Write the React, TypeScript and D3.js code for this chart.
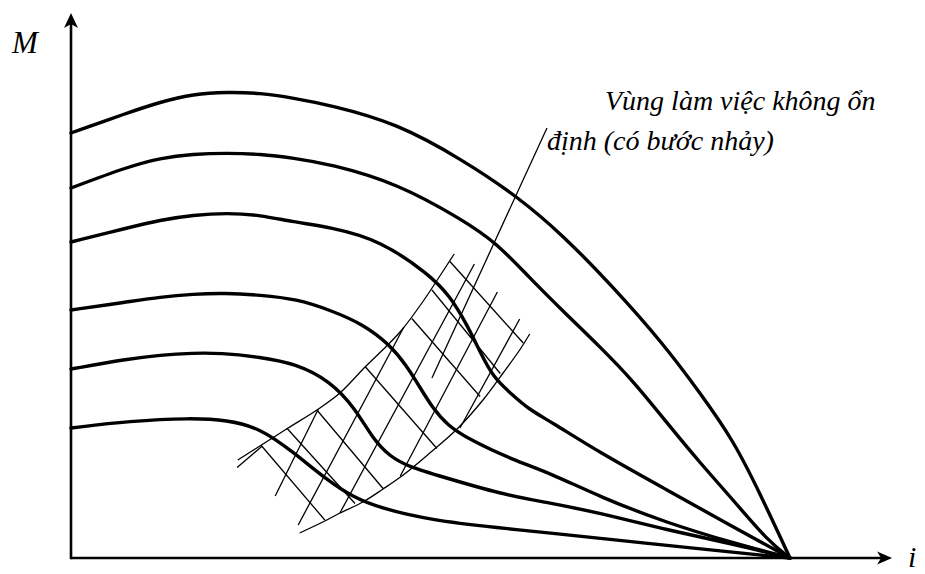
import React from "react";
import * as d3 from "d3";

const W = 925;
const H = 574;

// Torque M against current i, one curve per excitation level (top to bottom).
const curve1: [number, number][] = [
  [0, 85], [7.8, 89], [12.4, 91.2], [17, 92.8], [21.7, 93.2], [26.3, 93], [30.9, 92],
  [36, 90.6], [45.3, 87], [54.5, 79.6], [62, 72.4], [68.4, 64.6], [75.4, 54.2],
  [82.3, 43], [87.5, 33], [92.1, 23.6], [95.8, 13], [100, 0],
];
const curve2: [number, number][] = [
  [0, 74], [7.8, 78.2], [12.4, 80], [17, 80.8], [21.7, 81], [26.3, 80.8], [30.9, 80],
  [36, 78.8], [45.3, 75], [54.5, 67.6], [59.2, 63], [63.8, 56], [68.4, 49.4],
  [73.6, 42.2], [78.2, 35.4], [82.9, 27], [87.5, 19], [92.1, 11.6], [96.8, 3.6], [100, 0],
];
const curve3: [number, number][] = [
  [0, 63.2], [7.8, 66], [12.4, 67.6], [17, 68.6], [21.7, 69], [26.3, 68.6], [30.9, 67.2],
  [36, 66.2], [43, 63.6], [49.9, 56.6], [52.7, 52.4], [55.1, 46.6], [56.9, 41.2],
  [58.7, 36.2], [61.1, 33], [63.8, 29.6], [66.6, 27.4], [73.6, 21], [82.9, 13.6],
  [92.1, 6.2], [100, 0],
];
const curve4: [number, number][] = [
  [0, 49.6], [7.8, 51.2], [12.4, 52.2], [17, 52.8], [21.4, 53], [26.3, 52.6], [31.4, 51.8],
  [36, 49.6], [40.6, 46.8], [44.4, 42.6], [46.7, 38.4], [48.5, 34.2], [50.3, 30],
  [52.3, 26.6], [55.5, 23.6], [61.5, 19.6], [66.6, 17], [73.6, 12.2], [82.9, 7],
  [92.1, 3], [100, 0],
];
const curve5: [number, number][] = [
  [0, 37.8], [7.8, 39.8], [12.4, 40.6], [17, 41], [20.7, 41], [26.3, 40.2], [31.4, 38.8],
  [36, 35.4], [39.5, 30], [41.9, 24], [44.4, 20.2], [47.1, 18.2], [51.3, 16.4],
  [59.7, 12.8], [66.6, 11], [73.6, 9], [82.9, 5.6], [92.1, 2.8], [100, 0],
];
const curve6: [number, number][] = [
  [0, 26], [8.2, 27.4], [16.6, 28], [21.7, 27.6], [26.3, 26], [30.9, 21.2], [35.6, 15.6],
  [39.2, 12.2], [43, 10], [49.9, 7.6], [59.7, 6], [66.6, 5], [78.2, 3.2], [100, 0],
];
const torqueCurves = [curve1, curve2, curve3, curve4, curve5, curve6];

// Unstable zone: two bounding edges of the band
const zoneUpperEdge: [number, number][] = [
  [23.2, 19.6], [26.7, 22.8], [30.2, 26], [34.2, 29.6], [37.4, 33], [40.9, 38.2],
  [43.9, 42.4], [46, 45.6], [49, 51.4], [51.3, 56.4], [53.3, 60.8],
];
const zoneLowerEdge: [number, number][] = [
  [31.8, 5], [35.3, 7.4], [37.4, 9], [40.6, 11.2], [43.4, 13.8], [46.2, 16.6],
  [49.9, 21], [53.7, 25.8], [57.3, 31.6], [60.1, 37], [62.4, 41.6], [63.8, 44.8],
];
// cross rungs of the hatch (upper edge -> lower edge)
const zoneRungs: [number, number][][] = [
  [[26.4, 22.6], [35.3, 7.6]],
  [[30, 26], [39.5, 10.9]],
  [[34.2, 29.6], [43.4, 13.9]],
  [[40.9, 38.3], [50.9, 21.9]],
  [[47.4, 47.9], [56.9, 32.3]],
  [[50.2, 53.6], [59.7, 36.9]],
  [[52.7, 59.3], [62.9, 43]],
];
// slanted hatch lines running along the band
const zoneHatches: [number, number][][] = [
  [[23.1, 18.1], [26.6, 22.4]],
  [[28.4, 12.4], [34.4, 29.8]],
  [[31.6, 6.6], [46.3, 46.2]],
  [[37.4, 9], [56.1, 58.8]],
  [[45.8, 16.4], [59.3, 53.2]],
  [[54.1, 26], [62.4, 47.8]],
];
// leader from the note down into the zone
const leader: [number, number][] = [[66.2, 86], [50.2, 36]];

const noteLines = ["Vùng làm việc không ổn", "định (có bước nhảy)"];
const axisLabelY = "M";
const axisLabelX = "i";
const iAxisEnd = 114.2;
const mAxisEnd = 109;

const FONT = "'Liberation Serif', 'Times New Roman', serif";

export default function App() {
  const xS = d3.scaleLinear().domain([0, 100]).range([71, 790]);
  const yS = d3.scaleLinear().domain([0, 100]).range([558, 58]);

  const soft = d3
    .line<[number, number]>()
    .x((d) => xS(d[0]))
    .y((d) => yS(d[1]))
    .curve(d3.curveBasis);
  const smooth = d3
    .line<[number, number]>()
    .x((d) => xS(d[0]))
    .y((d) => yS(d[1]))
    .curve(d3.curveCatmullRom.alpha(0.5));
  const straight = d3
    .line<[number, number]>()
    .x((d) => xS(d[0]))
    .y((d) => yS(d[1]));

  const x0 = xS(0);
  const y0 = yS(0);
  const xEnd = xS(iAxisEnd);
  const yEnd = yS(mAxisEnd);

  const arrowX = `M${xEnd},${y0} L${xEnd - 15},${y0 - 6.5} L${xEnd - 11},${y0} L${xEnd - 15},${y0 + 6.5} Z`;
  const arrowY = `M${x0},${yEnd} L${x0 - 7},${yEnd + 15} L${x0},${yEnd + 11} L${x0 + 7},${yEnd + 15} Z`;

  return (
    <svg
      width={W}
      height={H}
      viewBox={`0 0 ${W} ${H}`}
      style={{ position: "absolute", left: 0, top: 0, background: "#fff" }}
    >
      <rect width={W} height={H} fill="#fff" />

      {/* hatched unstable zone */}
      <g stroke="#000" strokeWidth={1.3} fill="none">
        <path d={smooth(zoneUpperEdge) || ""} />
        <path d={smooth(zoneLowerEdge) || ""} />
        {zoneRungs.map((s, k) => (
          <path key={"r" + k} d={straight(s) || ""} />
        ))}
        {zoneHatches.map((s, k) => (
          <path key={"h" + k} d={straight(s) || ""} />
        ))}
        <path d={straight(leader) || ""} />
      </g>

      {/* torque curves */}
      <g stroke="#000" strokeWidth={3.4} fill="none" strokeLinecap="round">
        {torqueCurves.map((c, k) => (
          <path key={k} d={soft(c) || ""} />
        ))}
      </g>

      {/* axes */}
      <g stroke="#000" strokeWidth={2.6}>
        <line x1={x0} y1={y0} x2={xEnd - 8} y2={y0} />
        <line x1={x0} y1={y0 + 1.3} x2={x0} y2={yEnd + 8} />
      </g>
      <path d={arrowX} fill="#000" />
      <path d={arrowY} fill="#000" />

      <text x={x0 - 59} y={yEnd + 40} fontFamily={FONT} fontStyle="italic" fontSize={31} fill="#000">
        {axisLabelY}
      </text>
      <text x={xEnd + 16} y={y0 + 9} fontFamily={FONT} fontStyle="italic" fontSize={30} fill="#000">
        {axisLabelX}
      </text>

      <g fontFamily={FONT} fontStyle="italic" fontSize={28} fill="#000">
        <text x={605} y={110}>{noteLines[0]}</text>
        <text x={547} y={150}>{noteLines[1]}</text>
      </g>
    </svg>
  );
}
